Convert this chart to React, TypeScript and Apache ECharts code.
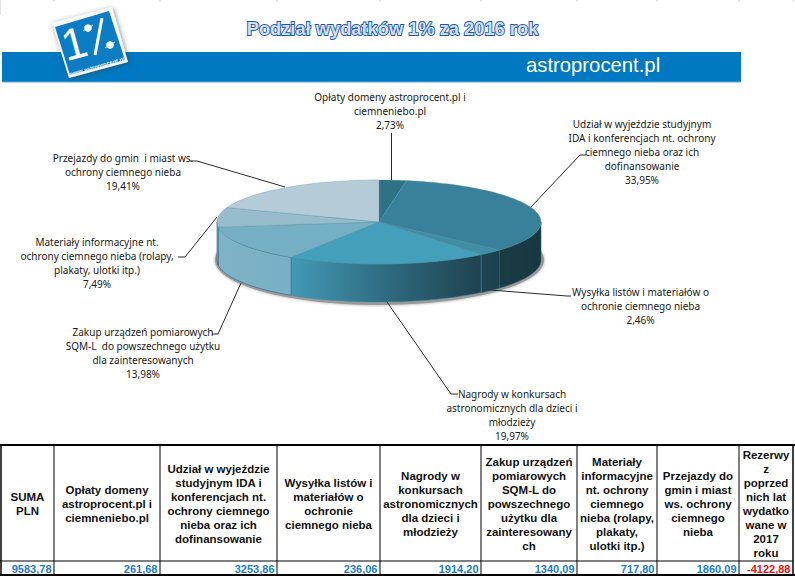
import React, { useEffect, useRef } from "react";
import * as echarts from "echarts";

const titleText = "Podział wydatków 1% za 2016 rok";
const bandText = "astroprocent.pl";
const logoUrl = "www.astroprocent.pl";

const sliceValues = [261.68, 3253.86, 236.06, 1914.2, 1340.09, 717.8, 1860.09];
const sliceLabels = [
  ["Opłaty domeny astroprocent.pl i", "ciemneniebo.pl", "2,73%"],
  ["Udział w wyjeździe studyjnym", "IDA i konferencjach nt. ochrony", "ciemnego nieba oraz ich", "dofinansowanie", "33,95%"],
  ["Wysyłka listów i materiałów o", "ochronie ciemnego nieba", "2,46%"],
  ["Nagrody w konkursach", "astronomicznych dla dzieci i", "młodzieży", "19,97%"],
  ["Zakup urządzeń pomiarowych", "SQM-L  do powszechnego użytku", "dla zainteresowanych", "13,98%"],
  ["Materiały informacyjne nt.", "ochrony ciemnego nieba (rolapy,", "plakaty, ulotki itp.)", "7,49%"],
  ["Przejazdy do gmin  i miast ws.", "ochrony ciemnego nieba", "19,41%"],
];
const topColors = ["#2F7286", "#39809A", "#3F8EA6", "#449FBA", "#75AFC4", "#97BCCC", "#B5CCD8"];
const sideStops = [
  ["#23505E", "#23505E"],
  ["#173840", "#1A3C45"],
  ["#1D404C", "#204653"],
  ["#429AB5", "#1F4250"],
  ["#7AB0C5", "#7DB2C7"],
  ["#7AB0C5", "#7AB0C5"],
  ["#8FB8C8", "#8FB8C8"],
];

const labelAnchors = [
  { x: 390, y: 97 },
  { x: 642, y: 124 },
  { x: 640.5, y: 292 },
  { x: 512, y: 394 },
  { x: 143, y: 332 },
  { x: 97, y: 242 },
  { x: 123, y: 158 },
];
const leaderLines = [
  [[391.5, 133], [391.5, 182]],
  [[586, 155], [580, 155], [530, 208]],
  [[571, 296], [567, 296], [490, 290]],
  [[458, 394], [451, 394], [387, 302]],
  [[212, 334], [218, 334], [241, 283]],
  [[178, 257], [185, 257], [217, 217]],
  [[190, 161], [197, 161], [285, 187]],
];

const tableHeaders = [
  ["SUMA", "PLN"],
  ["Opłaty domeny", "astroprocent.pl i", "ciemneniebo.pl"],
  ["Udział w wyjeździe", "studyjnym IDA i", "konferencjach nt.", "ochrony ciemnego", "nieba oraz ich", "dofinansowanie"],
  ["Wysyłka listów i", "materiałów o", "ochronie", "ciemnego nieba"],
  ["Nagrody w", "konkursach", "astronomicznych", "dla dzieci i", "młodzieży"],
  ["Zakup urządzeń", "pomiarowych", "SQM-L do", "powszechnego", "użytku dla", "zainteresowany", "ch"],
  ["Materiały", "informacyjne", "nt. ochrony", "ciemnego", "nieba (rolapy,", "plakaty,", "ulotki itp.)"],
  ["Przejazdy do", "gmin i miast", "ws. ochrony", "ciemnego", "nieba"],
  ["Rezerwy", "z", "poprzed", "nich lat", "wydatko", "wane w", "2017", "roku"],
];
const tableValues = ["9583,78", "261,68", "3253,86", "236,06", "1914,20", "1340,09", "717,80", "1860,09", "-4122,88"];
const columnEdges = [1, 54, 160, 277, 380, 481, 577, 657, 739, 793];

const PIE = { cx: 379, cy: 222, rx: 162, ry: 42, depth: 38 };
const LABEL_FONT = '"Noto Sans", sans-serif';
const TABLE_FONT = '"Liberation Sans", Arial, sans-serif';

const px = (deg: number) => PIE.cx + PIE.rx * Math.sin((deg * Math.PI) / 180);
const py = (deg: number) => PIE.cy - PIE.ry * Math.cos((deg * Math.PI) / 180);

function arcPoints(a: number, b: number, dy = 0) {
  const pts: number[][] = [];
  const n = Math.max(2, Math.ceil(Math.abs(b - a) / 1.5));
  for (let i = 0; i <= n; i++) {
    const d = a + ((b - a) * i) / n;
    pts.push([px(d), py(d) + dy]);
  }
  return pts;
}

const total = sliceValues.reduce((s, v) => s + v, 0);

function renderSlice(params: any, api: any) {
  const i = params.dataIndex;
  let before = 0;
  for (let k = 0; k < i; k++) before += sliceValues[k];
  const a = (before / total) * 360;
  const b = a + (api.value(0) / total) * 360;
  const children: any[] = [];
  const sa = Math.max(a, 90);
  const sb = Math.min(b, 270);
  if (sb > sa) {
    const upper = arcPoints(sa, sb);
    const lower = arcPoints(sb, sa, PIE.depth);
    children.push({
      type: "polygon",
      shape: { points: [...upper, ...lower] },
      style: {
        fill: {
          type: "linear", x: 0, y: 0, x2: 1, y2: 0,
          colorStops: i === 3
            ? [{ offset: 0, color: sideStops[i][0] }, { offset: 0.5, color: "#2F6B80" }, { offset: 1, color: sideStops[i][1] }]
            : [{ offset: 0, color: sideStops[i][1] }, { offset: 1, color: sideStops[i][0] }],
        },
        stroke: i === 3 ? "#3B8CA5" : "#2A6577",
        lineWidth: 0.6,
      },
    });
  }
  const top = [[PIE.cx, PIE.cy], ...arcPoints(a, b)];
  children.push({
    type: "polygon",
    shape: { points: top },
    style: { fill: topColors[i], stroke: "#4F93A8", lineWidth: 0.5, strokeOpacity: 0.7 },
    z2: 5,
  });
  return { type: "group", children };
}

function buildGraphics() {
  const g: any[] = [];
  columnEdges.slice(1).forEach((x) => {
    g.push({ type: "line", shape: { x1: x, y1: 0, x2: x, y2: 1.5 }, style: { stroke: "#C8C8C8", lineWidth: 1 } });
  });
  g.push({ type: "line", shape: { x1: 0.5, y1: 0, x2: 0.5, y2: 15 }, style: { stroke: "#E4E4E4", lineWidth: 1 } });

  g.push({ type: "rect", shape: { x: 2, y: 52, width: 739, height: 30 }, style: { fill: "#0079C2" } });
  g.push({ type: "rect", shape: { x: 2, y: 81.5, width: 739, height: 1 }, style: { fill: "#5AA9DC" } });
  g.push({
    type: "text", x: 526, y: 65,
    style: { text: bandText, fill: "#fff", font: `20.3px ${TABLE_FONT}`, textVerticalAlign: "middle" },
  });

  g.push({
    type: "polygon",
    shape: { points: [[52, 23], [112, 7], [128, 62], [69, 78]] },
    style: { fill: "#F7F9FB", shadowBlur: 5, shadowColor: "rgba(60,60,60,0.6)", shadowOffsetX: 1, shadowOffsetY: 1 },
  });
  g.push({ type: "polygon", shape: { points: [[55, 27], [109, 11], [125, 60], [70, 75]] }, style: { fill: "#0C7CC4" } });
  g.push({
    type: "text", x: 74, y: 43, rotation: (15 * Math.PI) / 180, originX: 0, originY: 0,
    style: { text: "1", fill: "#fff", font: `44px ${TABLE_FONT}`, textAlign: "center", textVerticalAlign: "middle" },
  });
  g.push({ type: "line", shape: { x1: 102, y1: 18, x2: 95, y2: 55 }, style: { stroke: "#fff", lineWidth: 3 } });
  [[88, 28], [110, 45]].forEach(([x, y]) => {
    g.push({ type: "circle", shape: { cx: x, cy: y, r: 3.8 }, style: { fill: "#fff" } });
    g.push({ type: "line", shape: { x1: x - 5, y1: y + 3, x2: x + 5, y2: y - 3 }, style: { stroke: "#fff", lineWidth: 0.8 } });
  });
  g.push({
    type: "text", x: 97, y: 66.5, rotation: (16 * Math.PI) / 180, originX: 0, originY: 0,
    style: { text: logoUrl, fill: "#E8F2FA", font: `bold 5.8px ${TABLE_FONT}`, textAlign: "center", textVerticalAlign: "middle" },
  });

  g.push({
    type: "text", x: 392.5, y: 28,
    style: {
      text: titleText, fill: "#CFE0F2", stroke: "#1F57A8", lineWidth: 1.8,
      font: `bold 18.3px ${TABLE_FONT}`, textAlign: "center", textVerticalAlign: "middle",
    },
  });

  g.push({
    type: "ellipse",
    shape: { cx: PIE.cx + 0.5, cy: PIE.cy + 38, rx: PIE.rx + 2.5, ry: PIE.ry + 3 },
    style: { fill: "#9A9A9A", shadowBlur: 3, shadowColor: "rgba(110,110,110,0.7)" },
  });

  leaderLines.forEach((pts) => {
    g.push({ type: "polyline", shape: { points: pts }, style: { stroke: "#2A2A2A", lineWidth: 1, fill: "none" } });
  });

  sliceLabels.forEach((lines, i) => {
    lines.forEach((t, j) => {
      g.push({
        type: "text", x: labelAnchors[i].x, y: labelAnchors[i].y + j * 13.9,
        style: { text: t, fill: "#1A1A1A", font: `10px ${LABEL_FONT}`, textAlign: "center", textVerticalAlign: "middle" },
      });
    });
  });

  const top = 445, mid = 561, bottom = 575;
  g.push({ type: "line", shape: { x1: 0, y1: top, x2: 795, y2: top }, style: { stroke: "#000", lineWidth: 2 } });
  g.push({ type: "line", shape: { x1: 0, y1: bottom, x2: 795, y2: bottom }, style: { stroke: "#000", lineWidth: 2 } });
  g.push({ type: "line", shape: { x1: 0, y1: mid, x2: 793, y2: mid }, style: { stroke: "#000", lineWidth: 1 } });
  columnEdges.forEach((x, i) => {
    const outer = i === 0 || i === columnEdges.length - 1;
    g.push({
      type: "line",
      shape: { x1: x, y1: top, x2: x, y2: bottom },
      style: { stroke: "#000", lineWidth: outer ? 1.5 : 1 },
    });
  });
  tableHeaders.forEach((lines, c) => {
    const center = (columnEdges[c] + columnEdges[c + 1]) / 2;
    const startY = 504 - ((lines.length - 1) * 14) / 2;
    lines.forEach((t, j) => {
      g.push({
        type: "text", x: center, y: startY + j * 14,
        style: { text: t, fill: "#111", font: `bold 11.5px ${TABLE_FONT}`, textAlign: "center", textVerticalAlign: "middle" },
      });
    });
  });
  tableValues.forEach((t, c) => {
    g.push({
      type: "text", x: columnEdges[c + 1] - 2.5, y: 568.5,
      style: {
        text: t, fill: t.startsWith("-") ? "#F01010" : "#1C7CC8",
        font: `bold 11px ${TABLE_FONT}`, textAlign: "right", textVerticalAlign: "middle",
      },
    });
  });
  return g;
}

export default function App() {
  const ref = useRef<HTMLDivElement>(null);
  useEffect(() => {
    document.body.style.margin = "0";
    const chart = echarts.init(ref.current!, undefined, { renderer: "svg" });
    chart.setOption({
      animation: false,
      backgroundColor: "#fff",
      graphic: { elements: buildGraphics() },
      series: [
        {
          type: "custom",
          coordinateSystem: "none",
          renderItem: renderSlice,
          data: sliceValues.map((v) => [v]),
          silent: true,
          z: 5,
        },
      ],
    });
    return () => chart.dispose();
  }, []);
  return <div ref={ref} style={{ width: 795, height: 577, position: "absolute", left: 0, top: 0 }} />;
}
